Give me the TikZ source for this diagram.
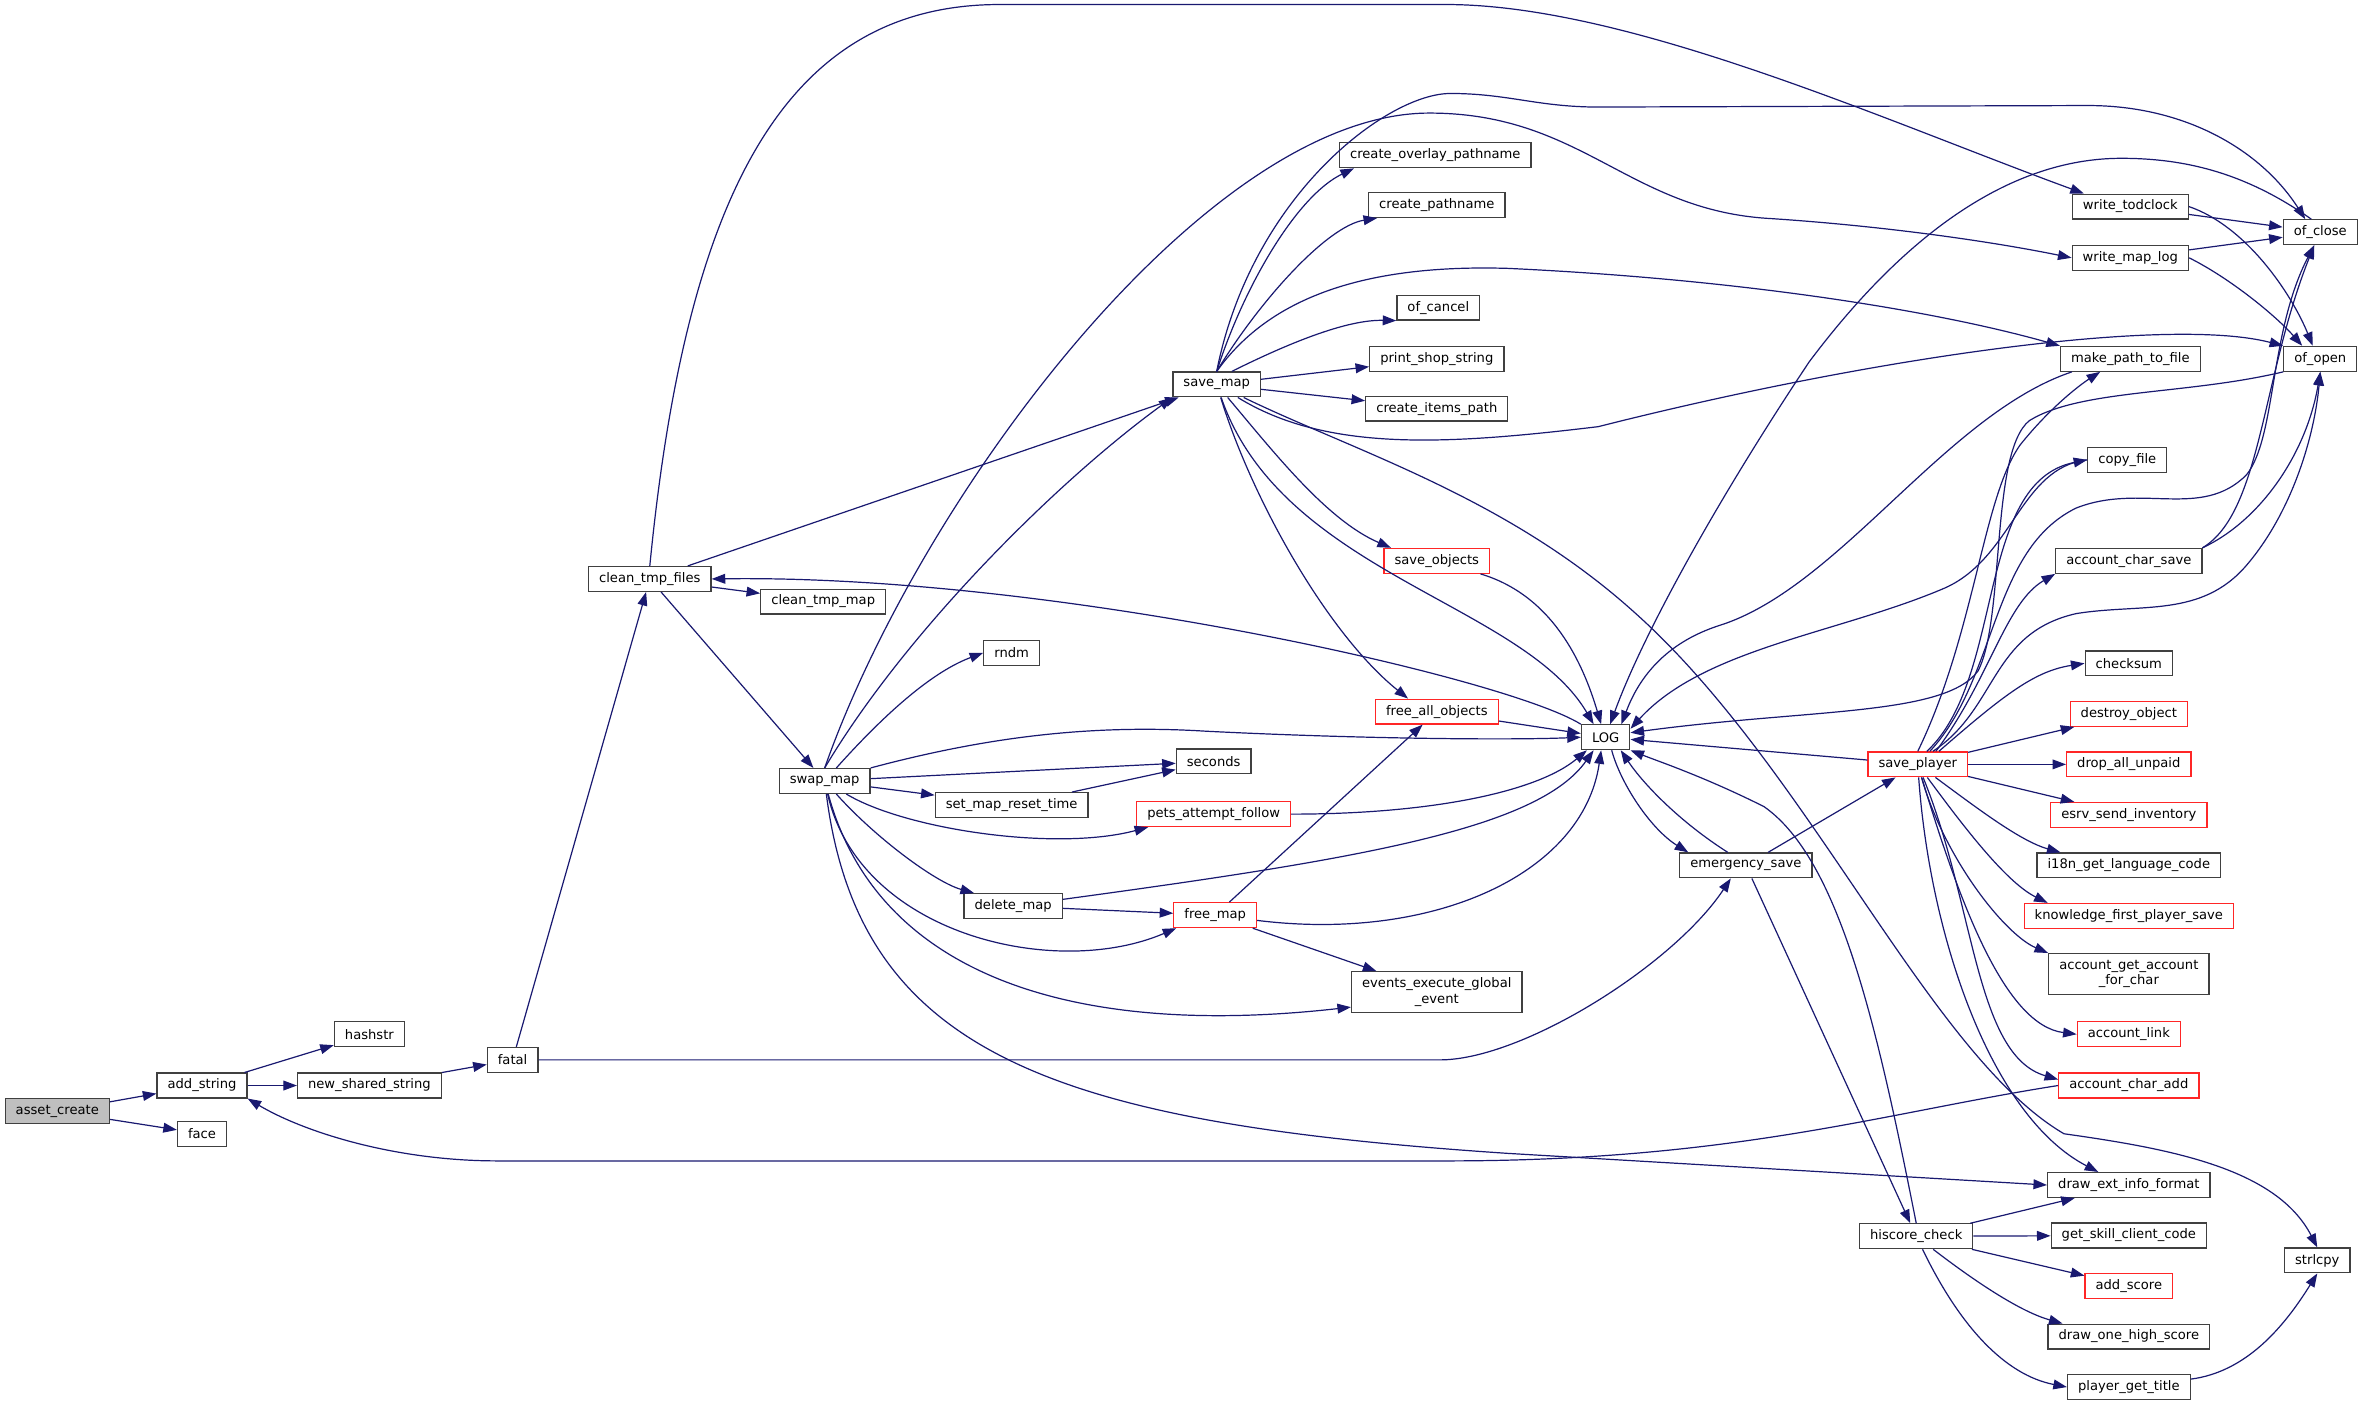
\documentclass[tikz,border=0pt]{standalone}
\usepackage{fontspec}
\setmainfont{DejaVu Sans}
\usepackage{tikz}
\usetikzlibrary{calc, arrows.meta, positioning}
\definecolor{edgeblue}{HTML}{191970}

\begin{document}
\begin{tikzpicture}[x=1pt,y=-1pt,inner ysep=0pt,node distance=33.5pt,
        fn/.style={draw=black!75,line width=0.8pt,fill=white,minimum height=16.5pt,
            inner xsep=7pt,align=center,font=\fontsize{8.7}{10.4}\selectfont},
        fnred/.style={fn,draw=red!85},
        fnroot/.style={fn,fill=black!25},
        twoline/.style={minimum height=27pt},
        calls/.style={edgeblue,line width=0.8pt,-{Triangle[length=9pt,width=6.5pt]}}]
        \useasboundingbox (0,0) rectangle (1568,934);
        \draw node [fnroot] (F01) at (38,737) {asset\_create};
        \draw node [fn] (F02) at (134,720) {add\_string};
        \draw node [fn] (F03) at (134,752) {face};
        \draw node [fn] (F04) at (245,686) {hashstr};
        \draw node [fn] (F05) at (245,720) {new\_shared\_string};
        \draw node [fn] (F06) at (340,703) {fatal};
        \draw node [fn] (F07) at (431,384) {clean\_tmp\_files};
        \draw node [fn] (F08) at (546,399) {clean\_tmp\_map};
        \draw node [fn] (F09) at (547,518) {swap\_map};
        \draw node [fn] (F10) at (807,255) {save\_map};
        \draw node [fn] (F11) at (952,103) {create\_overlay\_pathname};
        \draw node [fn] (F12) at (953,136) {create\_pathname};
        \draw node [fn] (F13) at (954,204) {of\_cancel};
        \draw node [fn] (F14) at (953,238) {print\_shop\_string};
        \draw node [fn] (F15) at (953,271) {create\_items\_path};
        \draw node [fnred] (F16) at (953,372) {save\_objects};
        \draw node [fnred] (F17) at (953,472) {free\_all\_objects};
        \draw node [fn] (F18) at (671,433) {rndm};
        \draw node [fn] (F19) at (805,505) {seconds};
        \draw node [fn] (F20) at (671,534) {set\_map\_reset\_time};
        \draw node [fnred] (F21) at (805,540) {pets\_attempt\_follow};
        \draw node [fn] (F22) at (672,601) {delete\_map};
        \draw node [fnred] (F23) at (806,607) {free\_map};
        \draw node [fn,twoline] (F24) at (953,658) {events\_execute\_global\\\_event};
        \draw node [fn] (F25) at (1065,489) {LOG};
        \draw node [fn] (F26) at (1158,574) {emergency\_save};
        \draw node [fnred] (F27) at (1272,507) {save\_player};
        \draw node [fn] (F28) at (1271,820) {hiscore\_check};
        \draw node [fn] (F29) at (1413,137) {write\_todclock};
        \draw node [fn] (F30) at (1413,171) {write\_map\_log};
        \draw node [fn] (F31) at (1539,154) {of\_close};
        \draw node [fn] (F32) at (1539,238) {of\_open};
        \draw node [fn] (F33) at (1413,238) {make\_path\_to\_file};
        \draw node [fn] (F34) at (1411,305) {copy\_file};
        \draw node [fn] (F35) at (1412,372) {account\_char\_save};
        \draw node [fn] (F36) at (1412,440) {checksum};
        \draw node [fnred,below of=F36] (F37) {destroy\_object};
        \draw node [fnred,below of=F37] (F38) {drop\_all\_unpaid};
        \draw node [fnred,below of=F38] (F39) {esrv\_send\_inventory};
        \draw node [fn,below of=F39] (F40) {i18n\_get\_language\_code};
        \draw node [fnred,below of=F40] (F41) {knowledge\_first\_player\_save};
        \draw node [fn,twoline] (F42) at (1412,646) {account\_get\_account\\\_for\_char};
        \draw node [fnred] (F43) at (1412,686) {account\_link};
        \draw node [fnred] (F44) at (1412,720) {account\_char\_add};
        \draw node [fn] (F45) at (1412,786) {draw\_ext\_info\_format};
        \draw node [fn,below of=F45] (F46) {get\_skill\_client\_code};
        \draw node [fnred,below of=F46] (F47) {add\_score};
        \draw node [fn,below of=F47] (F48) {draw\_one\_high\_score};
        \draw node [fn,below of=F48] (F49) {player\_get\_title};
        \draw node [fn] (F50) at (1537,836) {strlcpy};
        \draw [calls] (F01) -- (F02);
        \draw [calls] (F01) -- (F03);
        \draw [calls] (F02) -- (F04);
        \draw [calls] (F02) -- (F05);
        \draw [calls] (F05) -- (F06);
        \draw [calls] (F06) -- (F07);
        \draw [calls] (F06.east) -- (955,703) .. controls (1010,703) and (1110,640)
            .. ($ (F26.south) + (-10,0) $);
        \draw [calls] (F07.north) .. controls (455,130) and (520,3) .. (663,3) -- (959,3)
            .. controls (1080,3) and (1250,80) .. ($ (F29.north west) + (8,0) $);
        \draw [calls] (F07) -- (F10);
        \draw [calls] (F07) -- (F08);
        \draw [calls] (F07) -- (F09);
        \draw [calls] (F25.north west) .. controls (1000,450) and (700,381) .. (F07.east);
        \draw [calls] (F10.north) .. controls (825,190) and (860,130)
            .. ($ (F11.south west) + (10,0) $);
        \draw [calls] (F10.north) .. controls (835,200) and (880,150)
            .. ($ (F12.south west) + (6,0) $);
        \draw [calls] ($ (F10.north) + (10,0) $) .. controls (860,225) and (895,212) .. (F13.south west);
        \draw [calls] (F10) -- (F14);
        \draw [calls] (F10) -- (F15);
        \draw [calls] (F10) .. controls (845,300) and (880,345) .. ($ (F16.north west) + (5,0) $);
        \draw [calls] (F10) .. controls (830,330) and (880,420) .. ($ (F17.north west) + (22,0) $);
        \draw [calls] (F10) .. controls (850,380) and (1010,400) .. ($ (F25.north) + (-8,0) $);
        \draw [calls] (F10.north) .. controls (830,130) and (920,62) .. (962,62)
            .. controls (1000,62) and (1020,71) .. (1060,71) -- (1385,70)
            .. controls (1450,70) and (1500,100) .. ($ (F31.north) + (-10,0) $);
        \draw [calls] (F10) .. controls (880,300) and (960,295) .. (1060,283)
            .. controls (1250,235) and (1440,210) .. (F32.north west);
        \draw [calls] (F10.north) .. controls (840,200) and (900,175) .. (1000,178)
            .. controls (1150,185) and (1280,205) .. (F33.north west);
        \draw [calls] (F10) .. controls (900,300) and (1000,330) .. (1085,407)
            .. controls (1200,510) and (1280,700) .. (1369,752)
            .. controls (1440,762) and (1510,775) .. (F50.north);
        \draw [calls] (F09.north) .. controls (600,420) and (700,320) .. (F10.south west);
        \draw [calls] (F09.north) .. controls (610,330) and (800,75) .. (948,75)
            .. controls (1050,75) and (1080,140) .. (1175,145)
            .. controls (1250,150) and (1320,160) .. (F30.west);
        \draw [calls] (F09) .. controls (590,470) and (620,445) .. (F18.west);
        \draw [calls] (F09) -- (F19);
        \draw [calls] (F09.north east) .. controls (650,490) and (720,480) .. (800,485)
            .. controls (900,490) and (1000,491) .. (F25.west);
        \draw [calls] (F09) -- (F20);
        \draw [calls] (F20) -- (F19);
        \draw [calls] (F09) .. controls (600,550) and (700,565) .. ($ (F21.south west) + (8,0) $);
        \draw [calls] (F09) .. controls (580,555) and (620,585) .. ($ (F22.north west) + (7,0) $);
        \draw [calls] (F09) .. controls (570,620) and (700,650) .. ($ (F23.south west) + (2,0) $);
        \draw [calls] (F09) .. controls (580,640) and (700,690) .. ($ (F24.west) + (0,10) $);
        \draw [calls] (F09) .. controls (570,700) and (700,745) .. (1000,765) -- (F45.west);
        \draw [calls] (F22) -- (F23);
        \draw [calls] (F22) .. controls (900,570) and (1020,550) .. ($ (F25.south) + (-8,0) $);
        \draw [calls] (F23) -- (F17);
        \draw [calls] (F23) -- (F24);
        \draw [calls] (F23) .. controls (950,625) and (1050,580) .. ($ (F25.south) + (-3,0) $);
        \draw [calls] (F21) .. controls (950,540) and (1020,525) .. ($ (F25.south west) + (4,0) $);
        \draw [calls] (F16) .. controls (1030,395) and (1050,440) .. ($ (F25.north) + (-3,0) $);
        \draw [calls] (F17) -- (F25);
        \draw [calls] ($ (F25.south) + (4,0) $) .. controls (1075,520) and (1095,550)
            .. ($ (F26.north west) + (6,0) $);
        \draw [calls] ($ (F26.north) + (-12,0) $) .. controls (1114,545) and (1090,520)
            .. ($ (F25.south) + (10,0) $);
        \draw [calls] (F26) -- (F27);
        \draw [calls] (F26) -- (F28);
        \draw [calls] (F27) -- (F25);
        \draw [calls] (F28.north) .. controls (1245,680) and (1220,570) .. (1170,535)
            .. controls (1130,515) and (1100,505) .. (F25.south east);
        \draw [calls] (F28) -- (F45);
        \draw [calls] (F28) -- (F46);
        \draw [calls] (F28) -- (F47);
        \draw [calls] (F28) .. controls (1310,850) and (1340,870) .. ($ (F48.north west) + (10,0) $);
        \draw [calls] (F28) .. controls (1300,880) and (1330,912) .. (F49.west);
        \draw [calls] (F49) .. controls (1490,910) and (1515,880) .. (F50.south);
        \draw [calls] (F29) -- (F31);
        \draw [calls] (F29.east) .. controls (1490,150) and (1520,195) .. ($ (F32.north) + (-5,0) $);
        \draw [calls] (F30) -- (F31);
        \draw [calls] (F30.east) .. controls (1480,185) and (1510,210) .. ($ (F32.north) + (-12,0) $);
        \draw [calls] ($ (F33.south west) + (8,0) $) .. controls (1290,275) and (1220,390) .. (1140,415)
            .. controls (1100,428) and (1085,455) .. ($ (F25.north east) + (-6,0) $);
        \draw [calls] ($ (F31.north) + (-6,0) $) .. controls (1490,115) and (1450,105) .. (1407,105)
            .. controls (1330,105) and (1260,160) .. (1200,240)
            .. controls (1140,330) and (1090,420) .. ($ (F25.north) + (3,0) $);
        \draw [calls] (F32.south west) .. controls (1450,262) and (1380,258) .. (1346,279)
            .. controls (1320,300) and (1330,410) .. (1312,445)
            .. controls (1290,475) and (1200,470) .. ($ (F25.east) + (0,-3) $);
        \draw [calls] (F34.west) .. controls (1340,310) and (1335,370) .. (1290,390)
            .. controls (1220,420) and (1130,430) .. ($ (F25.north east) + (0,3) $);
        \draw [calls] (F27.north) .. controls (1310,420) and (1315,330) .. (1340,295)
            .. controls (1360,270) and (1380,255) .. ($ (F33.south) + (-20,0) $);
        \draw [calls] ($ (F27.north) + (6,0) $) .. controls (1330,450) and (1310,320) .. (F34.west);
        \draw [calls] ($ (F27.north) + (8,0) $) .. controls (1325,450) and (1320,365) .. (1377,337)
            .. controls (1420,320) and (1460,345) .. (1490,315)
            .. controls (1510,290) and (1505,220) .. ($ (F31.south) + (-4,0) $);
        \draw [calls] ($ (F27.north) + (10,0) $) .. controls (1325,470) and (1320,420) .. (1377,407)
            .. controls (1420,400) and (1460,410) .. (1490,375)
            .. controls (1520,340) and (1535,290) .. (F32.south);
        \draw [calls] ($ (F27.north) + (12,0) $) .. controls (1320,450) and (1330,400) .. (F35.south west);
        \draw [calls] ($ (F27.north) + (14,0) $) .. controls (1330,460) and (1350,445) .. (F36.west);
        \draw [calls] (F27) -- (F37);
        \draw [calls] (F27) -- (F38);
        \draw [calls] (F27) -- (F39);
        \draw [calls] (F27) .. controls (1310,535) and (1340,558) .. ($ (F40.north west) + (16,0) $);
        \draw [calls] (F27) .. controls (1300,545) and (1330,585) .. ($ (F41.north west) + (16,0) $);
        \draw [calls] (F27) .. controls (1290,570) and (1330,620) .. (F42.north west);
        \draw [calls] (F27) .. controls (1300,600) and (1330,680) .. (F43.west);
        \draw [calls] (F27) .. controls (1310,600) and (1310,700) .. ($ (F44.west) + (0,-4) $);
        \draw [calls] (F27) .. controls (1280,620) and (1320,740) .. ($ (F45.north west) + (34,0) $);
        \draw [calls] (F35.north east) .. controls (1500,340) and (1500,250) .. ($ (F31.south) + (-4,0) $);
        \draw [calls] (F35.north east) .. controls (1500,345) and (1530,300) .. (F32.south);
        \draw [calls] (F44.west) .. controls (1250,738) and (1150,770) .. (960,770) -- (330,770)
            .. controls (260,770) and (200,750) .. (F02.south east);
    \end{tikzpicture}
\end{document}
